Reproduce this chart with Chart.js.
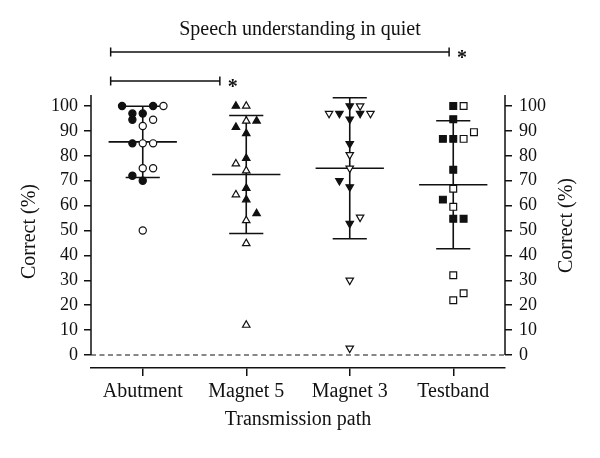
<!DOCTYPE html>
<html>
<head>
<meta charset="utf-8">
<script src="https://cdn.jsdelivr.net/npm/chart.js@4.4.1/dist/chart.umd.min.js"></script>
<style>
  html, body { margin: 0; padding: 0; background: #fff; }
  #chart { display: block; }
</style>
</head>
<body>
<canvas id="chart" width="600" height="458"></canvas>
<script>
// Speech understanding in quiet - scores per transmission path, mean +/- SD

const categories = ['Abutment', 'Magnet 5', 'Magnet 3', 'Testband'];
const yTicks = [0, 10, 20, 30, 40, 50, 60, 70, 80, 90, 100];

// mean and SD
const means = [85.6, 72.5, 75.0, 68.4];
const sds = [14.3, 23.7, 28.3, 25.7];

// individual scores (%). *Dodge = sideways slot of the marker, 1 slot = 0.1 column
const abutmentFilled = [100, 100, 97, 94.5, 97, 85, 72, 70];
const abutmentFilledDodge = [-2, 1, -1, -1, 0, -1, -1, 0];
const abutmentOpen = [100, 94.5, 92, 85, 85, 75, 75, 50];
const abutmentOpenDodge = [2, 1, 0, 0, 1, 0, 1, 0];

const magnet5Filled = [100, 94, 91.5, 89, 79, 67, 62.4, 56.8];
const magnet5FilledDodge = [-1, 1, -1, 0, 0, 0, 0, 1];
const magnet5Open = [100, 94, 76.8, 74, 64.4, 54, 44.8, 12];
const magnet5OpenDodge = [0, 0, -1, 0, -1, 0, 0, 0];

const magnet3Filled = [100, 97, 97, 94.7, 84.8, 70, 67.5, 52.8];
const magnet3FilledDodge = [0, -1, 1, 0, 0, -1, 0, 0];
const magnet3Open = [100, 97, 97, 80.4, 75, 55.3, 30, 2.7];
const magnet3OpenDodge = [1, -2, 2, 0, 0, 1, 0, 0];

const testbandFilled = [100, 94.7, 86.8, 86.8, 74.4, 62.4, 54.7, 54.7];
const testbandFilledDodge = [0, 0, -1, 0, 0, -1, 0, 1];
const testbandOpen = [100, 89.5, 86.8, 66.8, 59.5, 32, 24.8, 22];
const testbandOpenDodge = [1, 2, 1, 0, 0, 0, 1, 0];

const FONT = "'Liberation Serif', 'Times New Roman', serif";
const INK = '#111';

function toPoints(col, values, dodge) {
    return values.map((v, i) => ({ x: col + 1 + dodge[i] * 0.1, y: v }));
}

function markerSet(points, style, filled, radius, rotation) {
    return {
        data: points,
        pointStyle: style,
        pointRadius: radius,
        pointRotation: rotation || 0,
        pointBackgroundColor: filled ? INK : '#fff',
        pointBorderColor: INK,
        pointBorderWidth: 1.2,
        showLine: false
    };
}

// mean line + SD whiskers, drawn under the markers
const meanSdPlugin = {
    id: 'meanSd',
    beforeDatasetsDraw(chart) {
        const { ctx, scales: { x, y } } = chart;
        const meanHalf = x.getPixelForValue(1.33) - x.getPixelForValue(1);
        const capHalf = x.getPixelForValue(1.165) - x.getPixelForValue(1);
        ctx.save();
        ctx.strokeStyle = INK;
        ctx.lineWidth = 1.6;
        means.forEach((m, i) => {
            const cx = x.getPixelForValue(i + 1);
            const ym = y.getPixelForValue(m);
            const yt = y.getPixelForValue(m + sds[i]);
            const yb = y.getPixelForValue(m - sds[i]);
            ctx.beginPath();
            ctx.moveTo(cx, yt); ctx.lineTo(cx, yb);
            ctx.moveTo(cx - capHalf, yt); ctx.lineTo(cx + capHalf, yt);
            ctx.moveTo(cx - capHalf, yb); ctx.lineTo(cx + capHalf, yb);
            ctx.moveTo(cx - meanHalf, ym); ctx.lineTo(cx + meanHalf, ym);
            ctx.stroke();
        });
        ctx.restore();
    }
};

// split axes, dashed zero line, right axis title and significance brackets
const framePlugin = {
    id: 'frame',
    afterDraw(chart) {
        const { ctx, chartArea, scales: { x, y } } = chart;
        const y0 = y.getPixelForValue(0);
        ctx.save();
        ctx.strokeStyle = INK;
        ctx.lineWidth = 1.5;
        ctx.beginPath();
        ctx.moveTo(chartArea.left, chartArea.top); ctx.lineTo(chartArea.left, y0);
        ctx.moveTo(chartArea.right, chartArea.top); ctx.lineTo(chartArea.right, y0);
        ctx.stroke();

        ctx.lineWidth = 1.2;
        ctx.setLineDash([5, 3.5]);
        ctx.beginPath();
        ctx.moveTo(chartArea.left, y0); ctx.lineTo(chartArea.right, y0);
        ctx.stroke();
        ctx.setLineDash([]);

        // right title reads bottom-to-top like the left one
        ctx.fillStyle = INK;
        ctx.font = '20px ' + FONT;
        ctx.textAlign = 'center';
        ctx.textBaseline = 'middle';
        ctx.save();
        ctx.translate(chartArea.right + 62, (chartArea.top + chartArea.bottom) / 2 - 6);
        ctx.rotate(-Math.PI / 2);
        ctx.fillText('Correct (%)', 0, 0);
        ctx.restore();

        const brackets = [
            { from: 0.69, to: 3.96, dy: 43 },
            { from: 0.69, to: 1.745, dy: 14 }
        ];
        ctx.lineWidth = 1.5;
        ctx.font = 'bold 20px ' + FONT;
        ctx.textBaseline = 'alphabetic';
        brackets.forEach(b => {
            const x1 = x.getPixelForValue(b.from);
            const x2 = x.getPixelForValue(b.to);
            const by = chartArea.top - b.dy;
            ctx.beginPath();
            ctx.moveTo(x1, by); ctx.lineTo(x2, by);
            ctx.moveTo(x1, by - 4.5); ctx.lineTo(x1, by + 4.5);
            ctx.moveTo(x2, by - 4.5); ctx.lineTo(x2, by + 4.5);
            ctx.stroke();
            ctx.fillText('*', x2 + 13, by + 12);
        });
        ctx.restore();
    }
};

const datasets = [
    markerSet(toPoints(0, abutmentOpen, abutmentOpenDodge), 'circle', false, 3.6),
    markerSet(toPoints(0, abutmentFilled, abutmentFilledDodge), 'circle', true, 3.6),
    markerSet(toPoints(1, magnet5Open, magnet5OpenDodge), 'triangle', false, 4.3),
    markerSet(toPoints(1, magnet5Filled, magnet5FilledDodge), 'triangle', true, 4.3),
    markerSet(toPoints(2, magnet3Open, magnet3OpenDodge), 'triangle', false, 4.3, 180),
    markerSet(toPoints(2, magnet3Filled, magnet3FilledDodge), 'triangle', true, 4.3, 180),
    markerSet(toPoints(3, testbandOpen, testbandOpenDodge), 'rect', false, 4.8),
    markerSet(toPoints(3, testbandFilled, testbandFilledDodge), 'rect', true, 4.8)
];

const tickFont = { family: FONT, size: 18, lineHeight: 1.2 };
const labelFont = { family: FONT, size: 20, lineHeight: 1.2, weight: 'normal' };

const yAxis = (position, showTitle, labelPad, width) => ({
    type: 'linear',
    position: position,
    min: -5.22,
    max: 104.42,
    afterBuildTicks: scale => { scale.ticks = yTicks.map(v => ({ value: v })); },
    afterFit: scale => { scale.width = width; },
    grid: { drawOnChartArea: false, drawTicks: true, tickLength: 7, color: INK, lineWidth: 1.5 },
    border: { display: false },
    ticks: { color: INK, font: tickFont, padding: labelPad },
    title: { display: showTitle, text: 'Correct (%)', color: INK, font: labelFont, padding: { top: 18, bottom: 0 } }
});

new Chart(document.getElementById('chart'), {
    type: 'scatter',
    data: { datasets: datasets },
    options: {
        responsive: false,
        animation: false,
        layout: { padding: 0 },
        plugins: {
            legend: { display: false },
            tooltip: { enabled: false },
            title: {
                display: true,
                text: 'Speech understanding in quiet',
                color: INK,
                font: labelFont,
                padding: { top: 18, bottom: 53 }
            }
        },
        scales: {
            x: {
                type: 'linear',
                position: 'bottom',
                min: 0.5,
                max: 4.5,
                afterBuildTicks: scale => { scale.ticks = [1, 2, 3, 4].map(v => ({ value: v })); },
                afterFit: scale => { scale.height = 90; },
                grid: { drawOnChartArea: false, drawTicks: true, tickLength: 8, color: INK, lineWidth: 1.5 },
                border: { display: true, color: INK, width: 1.5 },
                ticks: {
                    color: INK,
                    font: labelFont,
                    padding: 4,
                    maxRotation: 0,
                    autoSkip: false,
                    callback: v => categories[v - 1]
                },
                title: { display: true, text: 'Transmission path', color: INK, font: labelFont, padding: { top: 0, bottom: 26 } }
            },
            y: yAxis('left', true, 6, 91),
            y2: yAxis('right', false, 7, 95)
        }
    },
    plugins: [meanSdPlugin, framePlugin]
});
</script>
</body>
</html>
